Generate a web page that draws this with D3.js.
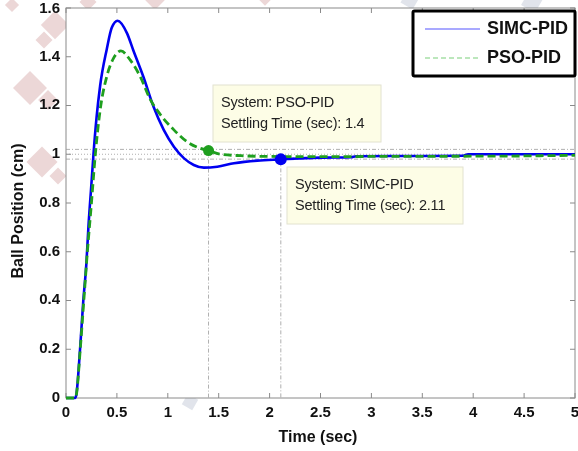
<!DOCTYPE html>
<html>
<head>
<meta charset="utf-8">
<script src="https://cdn.jsdelivr.net/npm/d3@7"></script>
<style>
  html, body { margin: 0; padding: 0; background: #fff; }
  svg { display: block; font-family: "Liberation Sans", Arial, sans-serif; }
</style>
</head>
<body>
<svg id="chart" width="578" height="451"></svg>
<script>
// ---- data ----
const simcTime = [0, 0.09, 0.1, 0.138, 0.17, 0.2, 0.22, 0.25, 0.27, 0.3, 0.335, 0.4, 0.45, 0.506, 0.6, 0.66, 0.76, 0.86, 0.96, 1.06, 1.16, 1.255, 1.354, 1.486, 1.65, 1.88, 2.11, 2.3, 2.5, 2.8, 2.85, 3.5, 3.9, 3.95, 4.5, 5.0];
const simcValue = [0, 0, 0.01, 0.2, 0.4, 0.55, 0.7, 0.88, 1.0, 1.15, 1.28, 1.43, 1.52, 1.548, 1.496, 1.428, 1.318, 1.195, 1.1, 1.031, 0.983, 0.956, 0.945, 0.949, 0.963, 0.974, 0.979, 0.983, 0.986, 0.988, 0.992, 0.993, 0.994, 1.0, 1.0, 1.0];

const psoTime = [0, 0.09, 0.1, 0.14, 0.175, 0.21, 0.25, 0.286, 0.335, 0.4, 0.466, 0.54, 0.63, 0.73, 0.83, 0.93, 1.06, 1.19, 1.32, 1.4, 1.52, 1.72, 2.0, 2.5, 3.0, 4.0, 4.5, 5.0];
const psoValue = [0, 0, 0.01, 0.2, 0.4, 0.6, 0.8, 0.99, 1.18, 1.318, 1.393, 1.424, 1.387, 1.318, 1.223, 1.161, 1.1, 1.051, 1.024, 1.015, 1.0, 0.994, 0.991, 0.99, 0.991, 0.992, 0.993, 0.996];

const seriesNames = ["SIMC-PID", "PSO-PID"];
const settlingTimes = [2.11, 1.4];
const settlingValues = [0.979, 1.015];
const bandLevels = [1.02, 1.0, 0.98];

const xTicks = [0, 0.5, 1, 1.5, 2, 2.5, 3, 3.5, 4, 4.5, 5];
const yTicks = [0, 0.2, 0.4, 0.6, 0.8, 1, 1.2, 1.4, 1.6];

// ---- layout ----
const svg = d3.select("#chart");
const plotLeft = 66, plotRight = 575, plotTop = 8, plotBottom = 398;

const x = d3.scaleLinear().domain([0, 5]).range([plotLeft, plotRight]);
const y = d3.scaleLinear().domain([0, 1.6]).range([plotBottom, plotTop]);

// faint watermark behind the axes (outside plot area)
const wm = svg.append("g").attr("opacity", 0.3);
const pinkBlocks = [[55, 25, 20], [44, 40, 12], [30, 88, 24], [48, 100, 14], [42, 162, 22], [58, 176, 12], [88, 2, 12], [155, 0, 14], [265, 0, 8], [12, 5, 10]];
pinkBlocks.forEach(([cx, cy, s]) => {
  wm.append("rect")
    .attr("x", cx - s / 2).attr("y", cy - s / 2)
    .attr("width", s).attr("height", s)
    .attr("fill", "#c07a7a")
    .attr("transform", `rotate(45,${cx},${cy})`);
});
const grayBlocks = [[410, 0, 14], [532, 2, 16], [190, 402, 12]];
grayBlocks.forEach(([cx, cy, s]) => {
  wm.append("rect")
    .attr("x", cx - s / 2).attr("y", cy - s / 2)
    .attr("width", s).attr("height", s)
    .attr("fill", "#9aa6bd")
    .attr("transform", `rotate(30,${cx},${cy})`);
});

// plot background
svg.append("rect")
  .attr("x", plotLeft).attr("y", plotTop)
  .attr("width", plotRight - plotLeft).attr("height", plotBottom - plotTop)
  .attr("fill", "#fff");

// axes with inward ticks on all sides
const axisColor = "#8a8a8a";
const tickLen = 5;
const axes = svg.append("g");
xTicks.forEach(t => {
  axes.append("line").attr("x1", x(t)).attr("x2", x(t)).attr("y1", plotBottom).attr("y2", plotBottom - tickLen).attr("stroke", axisColor);
  axes.append("line").attr("x1", x(t)).attr("x2", x(t)).attr("y1", plotTop).attr("y2", plotTop + tickLen).attr("stroke", axisColor);
  axes.append("text")
    .attr("x", x(t)).attr("y", 413)
    .attr("text-anchor", "middle").attr("dominant-baseline", "middle")
    .attr("font-size", 15).attr("font-weight", "bold").attr("fill", "#111")
    .text(t);
});
yTicks.forEach(v => {
  axes.append("line").attr("x1", plotLeft).attr("x2", plotLeft + tickLen).attr("y1", y(v)).attr("y2", y(v)).attr("stroke", axisColor);
  axes.append("line").attr("x1", plotRight).attr("x2", plotRight - tickLen).attr("y1", y(v)).attr("y2", y(v)).attr("stroke", axisColor);
  axes.append("text")
    .attr("x", 60).attr("y", Math.max(y(v), 9.5))
    .attr("text-anchor", "end").attr("dominant-baseline", "middle")
    .attr("font-size", 15).attr("font-weight", "bold").attr("fill", "#111")
    .text(v);
});
axes.append("rect")
  .attr("x", plotLeft).attr("y", plotTop)
  .attr("width", plotRight - plotLeft).attr("height", plotBottom - plotTop)
  .attr("fill", "none").attr("stroke", axisColor).attr("stroke-width", 1);

// axis titles
svg.append("text")
  .attr("x", 318).attr("y", 438)
  .attr("text-anchor", "middle").attr("dominant-baseline", "middle")
  .attr("font-size", 16).attr("font-weight", "bold").attr("fill", "#111")
  .text("Time (sec)");
svg.append("text")
  .attr("transform", "translate(19,211) rotate(-90)")
  .attr("text-anchor", "middle").attr("dominant-baseline", "middle")
  .attr("font-size", 16).attr("font-weight", "bold").attr("fill", "#111")
  .text("Ball Position (cm)");

// settling band reference lines
const refs = svg.append("g").attr("stroke", "#9a9a9a").attr("stroke-width", 0.8).attr("fill", "none");
bandLevels.forEach(v => {
  refs.append("line")
    .attr("x1", plotLeft).attr("x2", plotRight)
    .attr("y1", y(v)).attr("y2", y(v))
    .attr("stroke-dasharray", v === 1.0 ? "1,2" : "4,2,1,2");
});
settlingTimes.forEach((t, i) => {
  refs.append("line")
    .attr("x1", x(t)).attr("x2", x(t))
    .attr("y1", y(settlingValues[i])).attr("y2", plotBottom)
    .attr("stroke-dasharray", "4,2,1,2");
});

// curves
const line = d3.line()
  .x(d => x(d[0]))
  .y(d => y(d[1]))
  .curve(d3.curveMonotoneX);

const simcData = simcTime.map((t, i) => [t, simcValue[i]]);
const psoData = psoTime.map((t, i) => [t, psoValue[i]]);

svg.append("path")
  .datum(simcData)
  .attr("d", line)
  .attr("fill", "none")
  .attr("stroke", "#0000f0")
  .attr("stroke-width", 2.6)
  .attr("stroke-linejoin", "round");

svg.append("path")
  .datum(psoData)
  .attr("d", line)
  .attr("fill", "none")
  .attr("stroke", "#1f9f1f")
  .attr("stroke-width", 2.8)
  .attr("stroke-dasharray", "8,4");

// settling markers
svg.append("circle").attr("cx", x(settlingTimes[1])).attr("cy", y(settlingValues[1])).attr("r", 5.5).attr("fill", "#1f9f1f");
svg.append("circle").attr("cx", x(settlingTimes[0])).attr("cy", y(settlingValues[0])).attr("r", 6).attr("fill", "#0000f0");

// data tips
function dataTip(bx, by, bw, bh, name, t) {
  const g = svg.append("g");
  g.append("rect")
    .attr("x", bx).attr("y", by).attr("width", bw).attr("height", bh)
    .attr("fill", "#fdfde6").attr("stroke", "#e2e2cf").attr("stroke-width", 1);
  g.append("text")
    .attr("x", bx + 8).attr("y", by + 22)
    .attr("font-size", 14.5).attr("fill", "#222").attr("letter-spacing", -0.2)
    .text("System: " + name);
  g.append("text")
    .attr("x", bx + 8).attr("y", by + 43)
    .attr("font-size", 14.5).attr("fill", "#222").attr("letter-spacing", -0.2)
    .text("Settling Time (sec): " + t);
}
dataTip(213, 85, 168, 57, seriesNames[1], settlingTimes[1]);
dataTip(287, 167, 176, 57, seriesNames[0], settlingTimes[0]);

// legend
const legend = svg.append("g");
legend.append("rect")
  .attr("x", 413).attr("y", 11).attr("width", 162).attr("height", 65)
  .attr("fill", "#fff").attr("stroke", "#000").attr("stroke-width", 3).attr("rx", 1.5);
const legendColors = ["#8c8cff", "#a6e0a6"];
const legendDash = [null, "5,3"];
seriesNames.forEach((name, i) => {
  const ly = 29 + i * 29;
  legend.append("line")
    .attr("x1", 425).attr("x2", 480).attr("y1", ly).attr("y2", ly)
    .attr("stroke", legendColors[i]).attr("stroke-width", 1.5)
    .attr("stroke-dasharray", legendDash[i]);
  legend.append("text")
    .attr("x", 487).attr("y", ly)
    .attr("dominant-baseline", "middle")
    .attr("font-size", 18).attr("font-weight", "bold").attr("fill", "#111")
    .text(name);
});
</script>
</body>
</html>
